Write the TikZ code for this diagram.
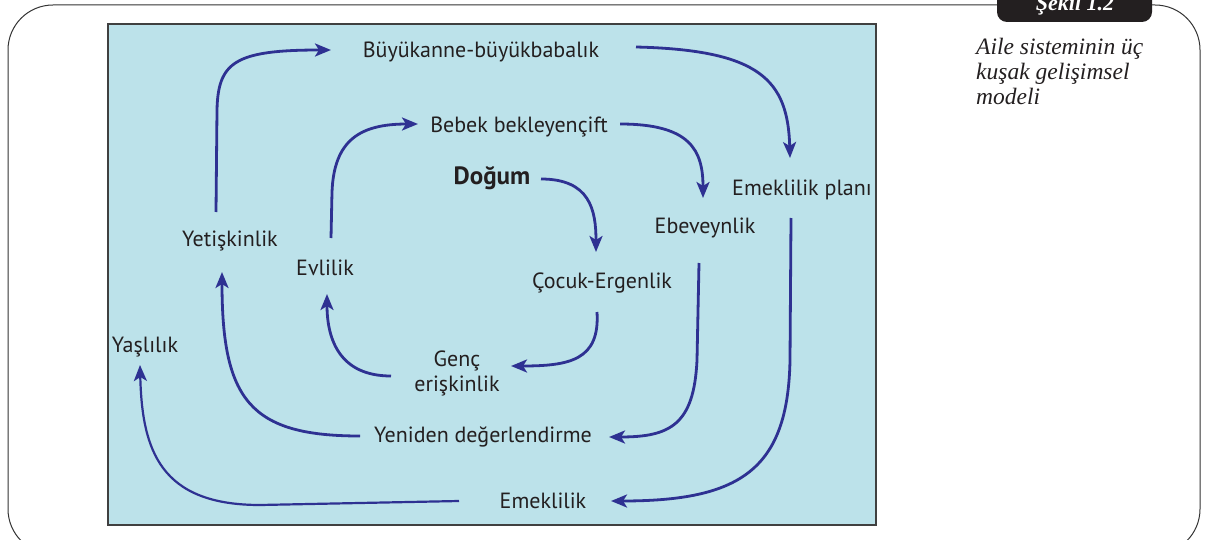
\documentclass[tikz,border=0pt]{standalone}
\usepackage{fontspec}
\setmainfont{Liberation Serif}
\newfontfamily\diag{PT Sans}
\usetikzlibrary{arrows.meta,calc}
\definecolor{boxblue}{HTML}{BCE2EA}
\definecolor{arrowblue}{HTML}{2E3192}
\definecolor{ink}{HTML}{231F20}
\begin{document}
\begin{tikzpicture}[x=1pt,y=-1pt,
  lbl/.style={font=\diag\fontsize{22}{25}\selectfont, text=ink, inner sep=0pt, anchor=base, align=center},
  conn/.style={draw=arrowblue, line width=2.8pt, -{Stealth[length=16pt,width=13pt,inset=4pt]}},
  thinconn/.style={conn, line width=2.2pt}]
\useasboundingbox (0,0) rectangle (1206,540);
% outer frame
\draw[line width=1pt, draw=black!80, rounded corners=45pt] (8,5) rectangle (1200,554);
% tab
\fill[ink, rounded corners=10pt] (997,-20) -- (997,22) -- (1152,22) -- (1152,-20) -- cycle;
\node[anchor=base, text=white, inner sep=0pt, font=\bfseries\itshape\fontsize{22}{22}\selectfont] (tab) at (1075,11) {Şekil 1.2};
% caption
\node[anchor=north west, inner sep=0pt, align=left, text=ink, font=\itshape\fontsize{23.5}{25}\selectfont] (cap) at (976,38) {Aile sisteminin üç\\kuşak gelişimsel\\modeli};
% blue box
\draw[fill=boxblue, draw=black!75, line width=1.4pt] (108,24) rectangle (876,525);
% labels
\node[lbl] (buy) at (481,58) {Büyükanne-büyükbabalık};
\node[lbl] (beb) at (519,133) {Bebek bekleyençift};
\node[lbl, font=\diag\bfseries\fontsize{25}{28}\selectfont] (dog) at (492,184) {Doğum};
\node[lbl] (emp) at (802,195) {Emeklilik planı};
\node[lbl] (ebe) at (705,233) {Ebeveynlik};
\node[lbl] (yet) at (230,246) {Yetişkinlik};
\node[lbl] (evl) at (325,275) {Evlilik};
\node[lbl] (coc) at (602,288) {Çocuk-Ergenlik};
\node[lbl] (yas) at (145,352) {Yaşlılık};
\node[lbl] (genc) at (457,391) {Genç\\erişkinlik};
\node[lbl] (yen) at (483,442) {Yeniden değerlendirme};
\node[lbl] (eme) at (543,508) {Emeklilik};
% connectors
\draw[conn] ($(yet.base)+(-14,-34)$) -- (217,110) .. controls (218,62) and (235,50) .. ($(buy.base)+(-150,-8)$);
\draw[conn] ($(buy.base)+(155,-11)$) .. controls (760,50) and (788,80) .. ($(emp.base)+(-12,-37)$);
\draw[conn] ($(evl.base)+(6,-37)$) -- (332,192) .. controls (334,140) and (360,124) .. ($(beb.base)+(-101,-9)$);
\draw[conn] ($(beb.base)+(101,-9)$) .. controls (690,124) and (703,150) .. ($(ebe.base)+(-2,-35)$);
\draw[conn] ($(dog.base)+(49,-5)$) .. controls (590,179) and (596,210) .. ($(coc.base)+(-6,-36)$);
\draw[conn] ($(coc.base)+(-5,24)$) .. controls (600,360) and (570,366) .. ($(genc.base)+(54,-25)$);
\draw[conn] ($(genc.base)+(-66,-15)$) .. controls (340,376) and (327,340) .. ($(evl.base)+(2,19)$);
\draw[conn] ($(ebe.base)+(-6,30)$) -- (697,360) .. controls (694,425) and (670,437) .. ($(yen.base)+(126,-5)$);
\draw[conn] ($(yen.base)+(-123,-6)$) .. controls (250,436) and (222,400) .. ($(yet.base)+(-8,26)$);
\draw[conn] ($(emp.base)+(-11,23)$) -- (790,360) .. controls (788,470) and (740,501) .. ($(eme.base)+(68,-7)$);
\draw[thinconn] ($(eme.base)+(-84,-7)$) -- (260,505) .. controls (160,505) and (142,450) .. ($(yas.base)+(-5,13)$);
\end{tikzpicture}
\end{document}
